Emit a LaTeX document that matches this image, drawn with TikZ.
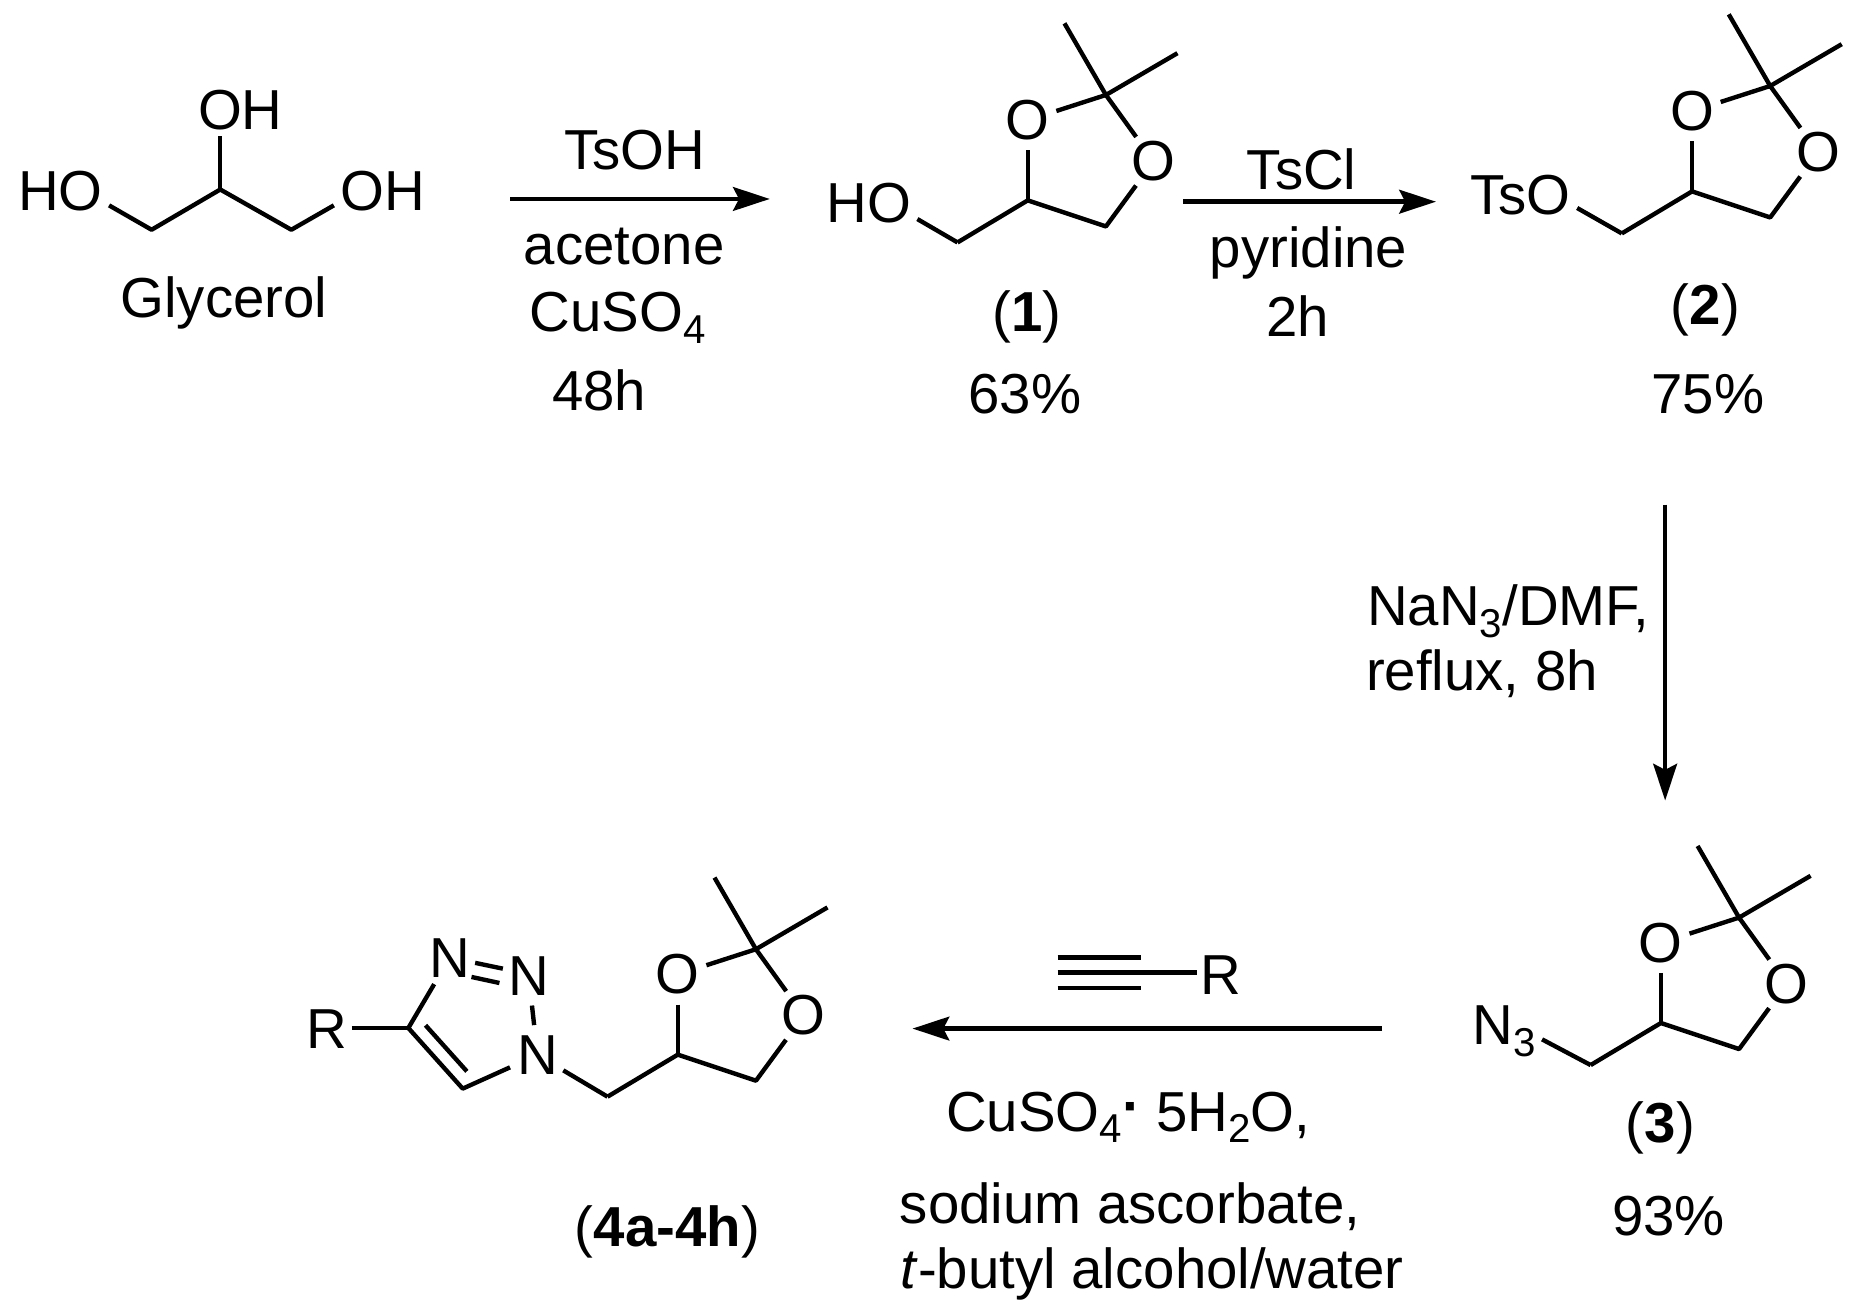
\documentclass[tikz,border=0pt]{standalone}
\usepackage{fontspec}
\setmainfont{Liberation Sans}
\usetikzlibrary{arrows.meta}

\newcommand{\lowered}[1]{\raisebox{-5pt}{\fontsize{17}{20}\selectfont #1}}

\tikzset{
    every node/.style={font=\fontsize{23.8}{28}\selectfont},
    bond/.style={line width=1.85pt},
    reaction/.style={line width=1.9pt,-{Stealth[length=15.5pt,width=10pt,inset=2.5pt]}},
    atom/.style={circle,inner sep=0pt,minimum size=25pt},
    lbl/.style={anchor=base,inner sep=2.5pt,yshift=-0.5pt},
    lblleft/.style={anchor=base west,inner sep=0pt,yshift=-0.5pt},
}

\begin{document}
\begin{tikzpicture}[x=0.5pt,y=-0.5pt]
    \useasboundingbox (0,0) rectangle (1568,1108);

    % dioxolane rings
    \foreach \ring/\qx/\qy in {a/933.8/80.2,b/1494.7/72.6,c/1468.4/774.8,d/638.3/801.5}{%
        \begin{scope}[shift={(\qx,\qy)}]
            \coordinate (Cq\ring) at (0,0);
            \coordinate (Mea\ring) at (-35,-60.5);
            \coordinate (Meb\ring) at (60.4,-35.3);
            \node [atom] (Oa\ring) at (-66,21.3) {O};
            \node [atom] (Ob\ring) at (40.4,56) {O};
            \coordinate (Ch\ring) at (-66,89);
            \coordinate (Cr\ring) at (0,111);
            \coordinate (Cc\ring) at (-125.3,124.5);
            \draw [bond] (Mea\ring) -- (Cq\ring) -- (Meb\ring);
            \draw [bond] (Cq\ring) -- (Oa\ring);
            \draw [bond] (Cq\ring) -- (Ob\ring);
            \draw [bond] (Oa\ring) -- (Ch\ring);
            \draw [bond,line join=round] (Cc\ring) -- (Ch\ring) -- (Cr\ring) -- (Ob\ring);
        \end{scope}
    }

    % glycerol
    \coordinate (Cg) at (186,160);
    \coordinate (Cgl) at (128,194);
    \coordinate (Cgr) at (246,194);
    \node [lbl] (OHtop) at (203,108) {OH};
    \node [lbl] (HOleft) at (51,177) {HO};
    \node [lbl] (OHright) at (323,177) {OH};
    \node [lbl] (glycerol) at (189,267) {Glycerol};
    \draw [bond] (Cg) -- (Cg |- OHtop.south);
    \draw [bond,line join=round] (HOleft.-16) -- (Cgl) -- (Cg) -- (Cgr) -- (OHright.196);

    % first step
    \node [lbl] (tsoh) at (536,142) {TsOH};
    \node [lbl] (acetone) at (527,222) {acetone};
    \node [lblleft] (cuso) at (447,279) {CuSO\lowered{4}};
    \node [lbl] (timea) at (506,346) {48h};
    \coordinate (ra) at (431,168);
    \coordinate (rb) at (650,168);
    \draw [reaction] (ra) -- (rb);

    % product 1
    \node [lbl] (HOa) at (733.5,187) {HO};
    \draw [bond] (HOa.-18) -- (Cca);
    \node [lbl] (labela) at (867,279) {(\textbf{1})};
    \node [lbl] (yielda) at (865.5,348) {63\%};

    % second step
    \node [lbl] (tscl) at (1099,159) {TsCl};
    \node [lbl] (pyridine) at (1105,225) {pyridine};
    \node [lbl] (timeb) at (1095.5,283) {2h};
    \coordinate (rc) at (999,170.3);
    \coordinate (rd) at (1212.5,170.3);
    \draw [reaction] (rc) -- (rd);

    % product 2
    \node [lbl] (TsOb) at (1284,180) {TsO};
    \draw [bond] (TsOb.-13) -- (Ccb);
    \node [lbl] (labelb) at (1440,273) {(\textbf{2})};
    \node [lbl] (yieldb) at (1442,348.5) {75\%};

    % third step
    \node [lblleft] (azide) at (1154,527) {NaN\lowered{3}/DMF,};
    \node [lblleft] (reflux) at (1153,582) {reflux, 8h};
    \coordinate (re) at (1406,426);
    \coordinate (rf) at (1406,676);
    \draw [reaction] (re) -- (rf);

    % product 3
    \node [lblleft,inner sep=2.5pt] (Nthree) at (1238,881) {N\lowered{3}};
    \draw [bond] (Nthree.-12) -- (Ccc);
    \node [lbl] (labelc) at (1402,964) {(\textbf{3})};
    \node [lbl] (yieldc) at (1409,1042) {93\%};

    % fourth step
    \coordinate (rg) at (1167,868.5);
    \coordinate (rh) at (770.5,868.5);
    \draw [reaction] (rg) -- (rh);
    \coordinate (Tla) at (893,808.6);
    \coordinate (Tlb) at (963,808.6);
    \coordinate (Tma) at (893,821.2);
    \coordinate (Tmb) at (1010.5,821.2);
    \coordinate (Tna) at (893,834);
    \coordinate (Tnb) at (963,834);
    \node [lbl] (Ralkyne) at (1031,838.4) {R};
    \draw [bond] (Tla) -- (Tlb);
    \draw [bond] (Tma) -- (Tmb);
    \draw [bond] (Tna) -- (Tnb);
    \node [lblleft] (cusohyd) at (798.5,954) {CuSO\lowered{4}\raisebox{2.5pt}{\textbf{·}} 5H\lowered{2}O,};
    \node [lblleft] (ascorbate) at (759.5,1032) {sodium ascorbate,};
    \node [lblleft] (butyl) at (760,1087) {\textit{t}-butyl alcohol/water};

    % triazole
    \node [atom] (Nb) at (453.8,890.8) {N};
    \node [atom] (Nc) at (446.4,823.8) {N};
    \node [atom] (Nd) at (379.5,809.1) {N};
    \node [lbl] (Rtri) at (275.7,884.6) {R};
    \coordinate (Cd) at (344.8,868);
    \coordinate (Ce) at (390.7,919.2);
    \coordinate (Rend) at (297.2,868);
    \coordinate (Dba) at (359.3,865.7);
    \coordinate (Dbb) at (394.2,904.6);
    \coordinate (NNa) at (401.2,813);
    \coordinate (NNb) at (424.6,817.9);
    \coordinate (NNc) at (398.1,824.9);
    \coordinate (NNd) at (421.7,830);
    \draw [bond] (Rend) -- (Cd);
    \draw [bond,line join=round] (Nd) -- (Cd) -- (Ce) -- (Nb);
    \draw [bond] (Dba) -- (Dbb);
    \draw [bond] (NNa) -- (NNb);
    \draw [bond] (NNc) -- (NNd);
    \draw [bond] (Nb) -- (Nc);
    \draw [bond] (Nb) -- (Ccd);
    \node [lbl] (labeld) at (563.5,1051.5) {(\textbf{4a-4h})};
\end{tikzpicture}
\end{document}
